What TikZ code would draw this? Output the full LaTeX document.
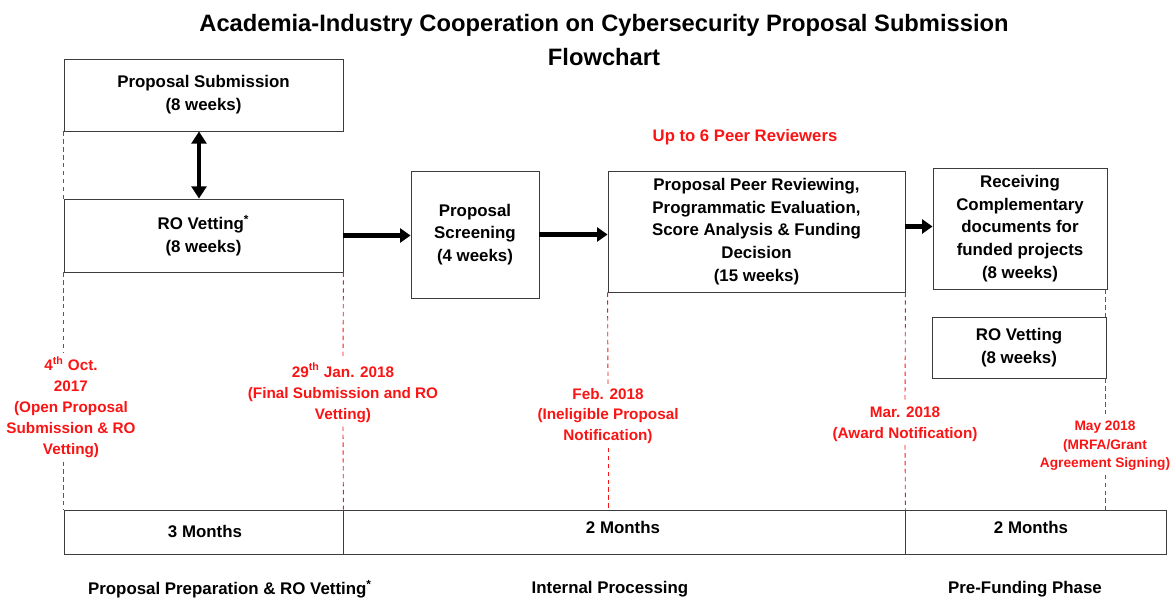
\documentclass[tikz,border=0pt]{standalone}
\usepackage{fontspec}
\setmainfont{Liberation Sans}
\usetikzlibrary{arrows.meta}
\definecolor{datered}{RGB}{250,20,20}
\definecolor{boxline}{RGB}{60,60,60}
\newcommand{\pxu}{0.02cm}
\tikzset{
    procbox/.style = {draw = boxline, line width = 0.5pt, align = center, inner sep = 1pt,
        font = \fontsize{9.6}{13}\selectfont\bfseries},
    datelabel/.style = {text = datered, align = center, inner sep = 2pt,
        font = \fontsize{8.7}{11.9}\selectfont\bfseries},
    dateline/.style = {datered, line width = 0.5pt, dash pattern = on 2.5pt off 2pt},
    flow/.style = {line width = 2.5pt, -{Triangle[length = 6pt, width = 8pt]}},
    phase/.style = {font = \fontsize{9.6}{12}\selectfont\bfseries},
}
\begin{document}
\begin{tikzpicture}[x = 0.02cm, y = -0.02cm]
        \useasboundingbox (0,0) rectangle (1170,598);

        \node[align = center, font = \fontsize{13.5}{19.3}\selectfont\bfseries] (title) at (604,40)
        {Academia-Industry Cooperation on Cybersecurity Proposal Submission\\Flowchart};

        % process boxes
        \node[procbox, minimum width = 279*\pxu, minimum height = 72*\pxu] (submit) at (203.5,95)
        {Proposal Submission\\(8 weeks)};
        \node[procbox, minimum width = 279*\pxu, minimum height = 73*\pxu] (vet) at (203.5,235.5)
        {RO Vetting\textsuperscript{*}\\(8 weeks)};
        \node[procbox, minimum width = 128*\pxu, minimum height = 127*\pxu] (screen) at (475,234.5)
        {Proposal\\Screening\\(4 weeks)};
        \node[procbox, minimum width = 297*\pxu, minimum height = 121*\pxu] (review) at (756.5,231.5)
        {Proposal Peer Reviewing,\\Programmatic Evaluation,\\Score Analysis \& Funding\\Decision\\(15 weeks)};
        \node[procbox, minimum width = 174*\pxu, minimum height = 121*\pxu] (receive) at (1020,228.5)
        {Receiving\\Complementary\\documents for\\funded projects\\(8 weeks)};
        \node[procbox, minimum width = 174*\pxu, minimum height = 61*\pxu] (vettwo) at (1019,347.5)
        {RO Vetting\\(8 weeks)};

        \node[text = datered, font = \fontsize{9.5}{12}\selectfont\bfseries] (peers) at (745,137)
        {Up to 6 Peer Reviewers};

        % arrows
        \draw[line width = 2.5pt, {Triangle[length = 7pt, width = 8.5pt]}-{Triangle[length = 7pt, width = 8.5pt]}]
        ([xshift = -4.5*\pxu]submit.south) -- ([xshift = -4.5*\pxu]vet.north);
        \draw[flow] (vet.east) -- (vet.east -| screen.west);
        \draw[flow] (screen.east) -- (screen.east -| review.west);
        \draw[flow] ([yshift = 5*\pxu]review.east) -- ([yshift = 5*\pxu]review.east -| receive.west);

        % timeline bar
        \node[procbox, minimum width = 279*\pxu, minimum height = 44*\pxu] (three) at (203.5,532) {};
        \node[procbox, minimum width = 562*\pxu, minimum height = 44*\pxu] (twoa) at (624,532) {};
        \node[procbox, minimum width = 261*\pxu, minimum height = 44*\pxu] (twob) at (1035.5,532) {};
        \node[phase] at (205,531) {3 Months};
        \node[phase] at (623,527) {2 Months};
        \node[phase] at (1031,527) {2 Months};

        \node[phase] (phaseone) at (230,589)
        {Proposal Preparation \& RO Vetting\textsuperscript{*}};
        \node[phase] (phasetwo) at (610,589) {Internal Processing};
        \node[phase] (phasethree) at (1025,589) {Pre-Funding Phase};

        % dates
        \node[datelabel] (oct) at (71,407)
        {4\textsuperscript{th} Oct.\\2017\\(Open Proposal\\Submission \& RO\\Vetting)};
        \node[datelabel] (jan) at (343,393)
        {29\textsuperscript{th} Jan. 2018\\(Final Submission and RO\\Vetting)};
        \node[datelabel] (feb) at (608,416)
        {Feb. 2018\\(Ineligible Proposal\\Notification)};
        \node[datelabel] (mar) at (905,424)
        {Mar. 2018\\(Award Notification)};
        \node[datelabel, font = \fontsize{7.8}{10.6}\selectfont\bfseries] (may) at (1105,446)
        {May 2018\\(MRFA/Grant\\Agreement Signing)};

        % dashed date lines
        \draw[dateline] (submit.south west) -- (vet.north west);
        \draw[dateline] (vet.south west) -- (vet.south west |- oct.north);
        \draw[dateline] (vet.south west |- oct.south) -- (three.north west);
        \draw[dateline] (vet.south east) -- (jan.north);
        \draw[dateline] (jan.south) -- (three.north east);
        \draw[dateline] (review.south west) -- (feb.north);
        \draw[dateline] (feb.south) -- (feb.south |- twoa.north);
        \draw[dateline] (review.south east) -- (mar.north);
        \draw[dateline] (mar.south) -- (twoa.north east);
        \draw[dateline] (receive.south -| may.north) -- (vettwo.north -| may.north);
        \draw[dateline] (vettwo.south -| may.north) -- (may.north);
        \draw[dateline] (may.south) -- (may.south |- twob.north);
    \end{tikzpicture}
\end{document}
